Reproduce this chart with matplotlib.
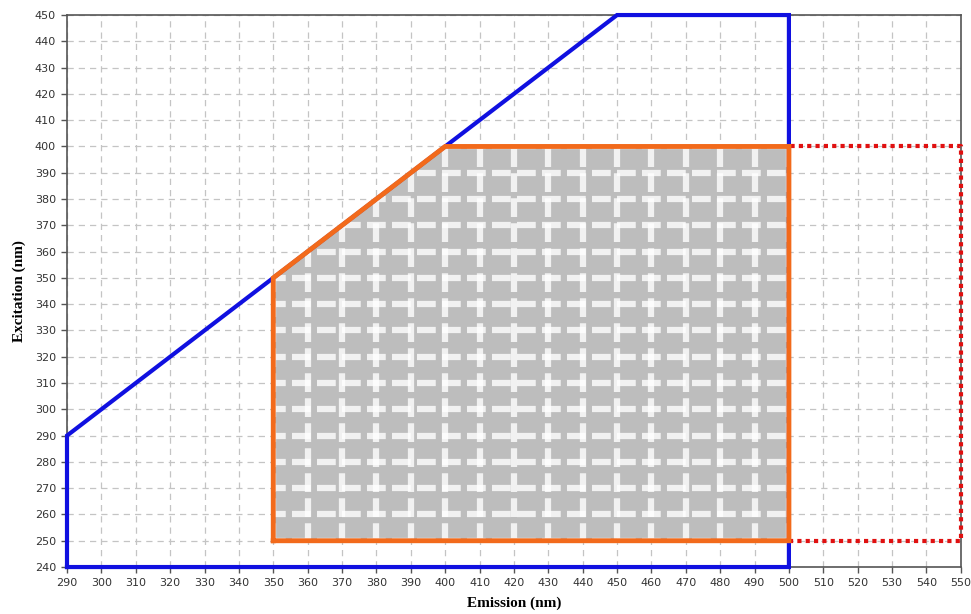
import matplotlib.pyplot as plt
from matplotlib.patches import Polygon

# 스펙트럼 영역 꼭짓점 (emission, excitation)
blue_em = [290, 290, 450, 500, 500, 290]
blue_ex = [240, 290, 450, 450, 240, 240]

orange_em = [350, 350, 400, 500, 500, 350]
orange_ex = [250, 350, 400, 400, 250, 250]

red_em = [500, 550, 550, 500]
red_ex = [250, 250, 400, 400]

x_ticks = list(range(290, 551, 10))
y_ticks = list(range(240, 451, 10))

plt.rcParams['font.family'] = ['Liberation Serif', 'DejaVu Serif']

fig = plt.figure(figsize=(9.71, 6.14), dpi=100)
ax = fig.add_axes([0.069, 0.0765, 0.9205, 0.899])

# 측정 영역 회색 채우기
poly = Polygon(list(zip(orange_em, orange_ex)), closed=True,
               facecolor='#bdbdbd', edgecolor='none', zorder=1)
ax.add_patch(poly)

# 회색 영역 안의 흰 격자 무늬
for x in x_ticks:
    ln, = ax.plot([x, x], [240, 450], color='white', lw=4.5, alpha=0.8,
                  ls=(0, (3, 1)), zorder=2)
    ln.set_clip_path(poly)
for y in y_ticks:
    ln, = ax.plot([290, 550], [y, y], color='white', lw=4.5, alpha=0.8,
                  ls=(0, (3, 1)), zorder=2)
    ln.set_clip_path(poly)

ax.plot(blue_em, blue_ex, color='#1010e0', lw=3, zorder=4,
        solid_joinstyle='miter', clip_on=False)
ax.plot(orange_em, orange_ex, color='#f26a1b', lw=3.5, zorder=5, solid_joinstyle='miter')
ax.plot(red_em, red_ex, color='#e01010', lw=3, ls=(0, (1, 1)), zorder=3, clip_on=False)

ax.set_xlim(290, 550)
ax.set_ylim(240, 450)
ax.set_xticks(x_ticks)
ax.set_yticks(y_ticks)
ax.grid(True, color='#c4c4c4', ls=(0, (5, 4)), lw=0.9, zorder=0)
ax.set_axisbelow(True)

for s in ax.spines.values():
    s.set_color('#555555')
    s.set_linewidth(1.2)
ax.tick_params(direction='out', length=4, width=1, color='#555555',
               labelsize=8, labelcolor='#333333', pad=4)
for lab in ax.get_xticklabels() + ax.get_yticklabels():
    lab.set_family('DejaVu Sans')

ax.set_xlabel('Emission (nm)', fontsize=11, fontweight='bold', labelpad=6)
ax.set_ylabel('Excitation (nm)', fontsize=11, fontweight='bold', labelpad=6)

plt.savefig('out.png', dpi=100)
